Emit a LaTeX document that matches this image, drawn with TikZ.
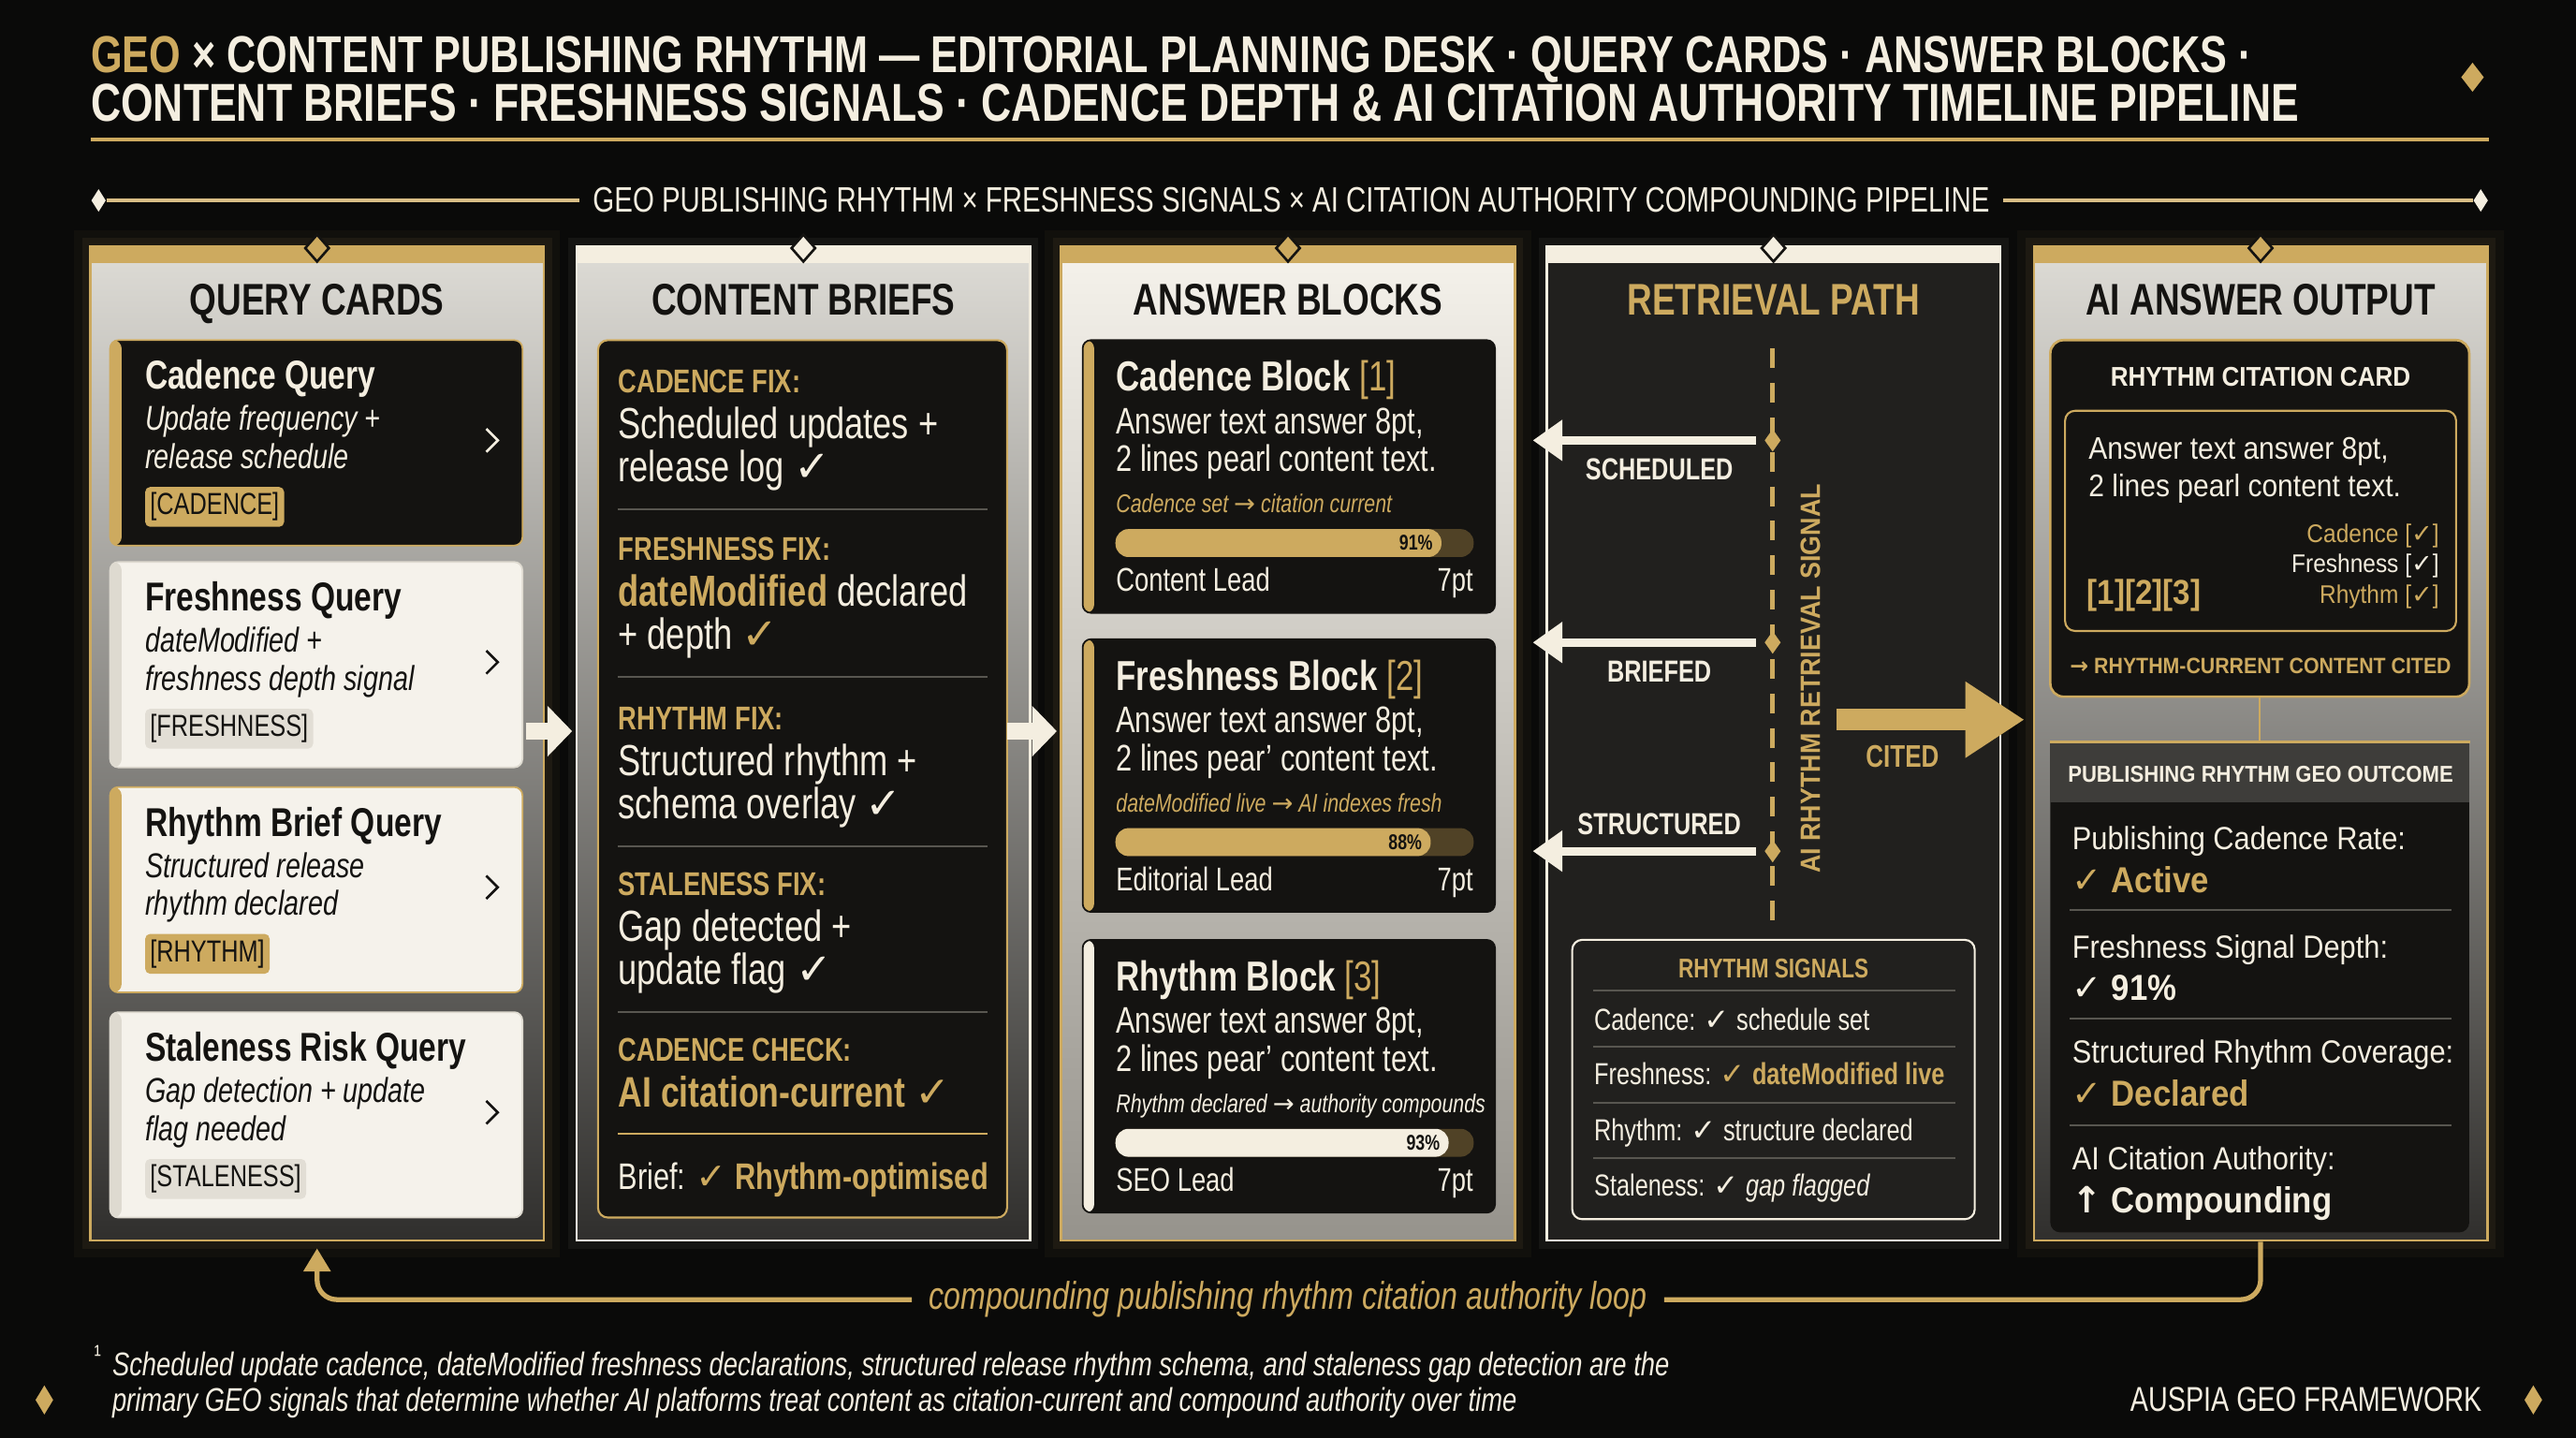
\documentclass[tikz,border=0pt]{standalone}
\usepackage{fontspec}
\setmainfont[FakeStretch=0.78]{Liberation Sans}
\newfontfamily\widefont[FakeStretch=0.9]{Liberation Sans}
\newfontfamily\symfont{DejaVu Sans}
\usetikzlibrary{arrows.meta,shapes.geometric}

\definecolor{bg}{RGB}{10,10,9}
\definecolor{gold}{RGB}{205,170,95}
\definecolor{cream}{RGB}{244,238,224}
\definecolor{ink}{RGB}{20,19,17}
\definecolor{paper}{RGB}{245,242,235}
\definecolor{paperedge}{RGB}{222,218,208}
\definecolor{taggray}{RGB}{226,222,213}
\definecolor{panel}{RGB}{33,32,30}
\definecolor{rule}{RGB}{88,86,80}
\definecolor{track}{RGB}{80,66,38}
\definecolor{outhead}{RGB}{62,61,58}
\definecolor{colhi}{RGB}{222,220,214}
\definecolor{collo}{RGB}{48,47,45}

\newcommand\fsz[1]{\fontsize{#1}{#1}\selectfont}
\newcommand\ck{{\symfont ✓}}
\newcommand\rarr{{\symfont →}}
\newcommand\uarr{{\symfont ↑}}

\tikzset{every picture/.style={line width=0.75pt}}

\begin{document}
\begin{tikzpicture}[x=1pt,y=1pt,yscale=-1,
  txt/.style={anchor=base west,inner sep=0pt,text=cream},
  txtr/.style={anchor=base east,inner sep=0pt,text=cream},
  txtc/.style={anchor=base,inner sep=0pt,text=cream},
  colbox/.style={rectangle,minimum width=276pt,minimum height=605pt,line width=1.5pt,inner sep=0pt},
  topdia/.style={diamond,fill=#1,draw=ink,line width=1.5pt,minimum width=15pt,minimum height=17pt,inner sep=0pt},
  qcard/.style={rectangle,rounded corners=5pt,minimum width=251pt,minimum height=125pt,inner sep=0pt,line width=1pt},
  sidebar/.style={path picture={\fill[#1] (path picture bounding box.south west) rectangle ([xshift=7pt]path picture bounding box.north west);}},
  tagbox/.style={anchor=west,rounded corners=3pt,inner xsep=3pt,inner ysep=3.5pt,text=ink,fill=#1},
  divider/.style={draw=rule,line width=1.2pt},
  glow/.style={draw=#1,line width=10pt,opacity=0.07},
  retarrow/.style={draw=cream,line width=5pt,shorten <=5pt,-{Triangle[length=18pt,width=24pt]}},
  colarrow/.style={draw=cream,line width=10pt,shorten >=2pt,-{Triangle[length=15pt,width=30pt]}},
  loopline/.style={draw=gold,line width=3pt,rounded corners=12pt},
  subline/.style={draw=gold!70!cream,line width=2pt,shorten >=8pt},
  smalldia/.style={diamond,fill=#1,minimum width=9pt,minimum height=14pt,inner sep=0pt}
]
%Background
\fill[bg] (0,0) rectangle (1568,875);
\path[use as bounding box] (0,0) rectangle (1568,875);

% Title
\node[txt,font=\bfseries\fsz{31.6}] (title1) at (55,44) {\textcolor{gold}{GEO} × CONTENT PUBLISHING RHYTHM — EDITORIAL PLANNING DESK · QUERY CARDS · ANSWER BLOCKS ·};
\node[txt,font=\bfseries\fsz{32.5}] (title2) at (55,74) {CONTENT BRIEFS · FRESHNESS SIGNALS · CADENCE DEPTH \& AI CITATION AUTHORITY TIMELINE PIPELINE};
\node[smalldia=gold,minimum width=14pt,minimum height=18pt] (tdia) at (1505,47) {};
\draw[gold,line width=2pt] (55,85) -- (1515,85);

% Subtitle
\node[txtc,font=\fsz{21.5}] (sub) at (786,129) {GEO PUBLISHING RHYTHM × FRESHNESS SIGNALS × AI CITATION AUTHORITY COMPOUNDING PIPELINE};
\node[smalldia=cream] (subl) at (60,122) {};
\node[smalldia=cream] (subr) at (1510,122) {};
\draw[subline] (subl) -- (sub.west |- subl);
\draw[subline] (subr) -- (sub.east |- subr);

%Glow round the columns
\foreach \xa in {55,646,1238} {
  \draw[glow=gold] (\xa,150) rectangle (\xa+276,755);
  \draw[glow=gold,line width=20pt,opacity=0.04] (\xa,150) rectangle (\xa+276,755);
}
\foreach \xa in {351,941.5} \draw[glow=cream,opacity=0.05] (\xa,150) rectangle (\xa+276,755);

%Columns
\node[colbox,draw=gold,top color=colhi,bottom color=collo] (col1) at (193,452.5) {};
\node[colbox,draw=cream,top color=colhi,bottom color=collo] (col2) at (489,452.5) {};
\node[colbox,draw=gold,top color=paper,bottom color={rgb,255:red,150;green,147;blue,140}] (col3) at (784,452.5) {};
\node[colbox,draw=cream,fill=panel] (col4) at (1079.5,452.5) {};
\node[colbox,draw=gold,top color=colhi,bottom color=collo] (col5) at (1376,452.5) {};
\fill[gold] (55,150) rectangle (331,160);
\fill[cream] (351,150) rectangle (627,160);
\fill[gold] (646,150) rectangle (922,160);
\fill[cream] (941.5,150) rectangle (1217.5,160);
\fill[gold] (1238,150) rectangle (1514,160);
\node[topdia=gold] (dia1) at (193,151) {};
\node[topdia=cream] (dia2) at (489,151) {};
\node[topdia=gold] (dia3) at (784,151) {};
\node[topdia=cream] (dia4) at (1079.5,151) {};
\node[topdia=gold] (dia5) at (1376,151) {};
\node[txtc,text=ink,font=\bfseries\fsz{27}] (head1) at (193,192) {QUERY CARDS};
\node[txtc,text=ink,font=\bfseries\fsz{27}] (head2) at (489,192) {CONTENT BRIEFS};
\node[txtc,text=ink,font=\bfseries\fsz{27}] (head3) at (784,192) {ANSWER BLOCKS};
\node[txtc,text=gold,font=\bfseries\fsz{27}] (head4) at (1079.5,192) {RETRIEVAL PATH};
\node[txtc,text=ink,font=\bfseries\fsz{27}] (head5) at (1376,192) {AI ANSWER OUTPUT};

%Query cards
\foreach \ty/\ttl/\sa/\sb/\tg/\cf/\scl/\tf/\bd/\tc [count=\idx] in {
  207/Cadence Query/Update frequency +/release schedule/CADENCE/ink/gold/gold/gold/cream,
  342/Freshness Query/dateModified +/freshness depth signal/FRESHNESS/paper/paperedge/taggray/paperedge/ink,
  479/Rhythm Brief Query/Structured release/rhythm declared/RHYTHM/paper/gold/gold/gold/ink,
  616/Staleness Risk Query/Gap detection + update/flag needed/STALENESS/paper/paperedge/taggray/paperedge/ink}
{
  \node[qcard,fill=\cf,draw=\bd,sidebar=\scl] (qc\idx) at (192.5,\ty+62.5) {};
  \node[txt,text=\tc,font=\bfseries\fsz{24.5}] (qt\idx) at (88,\ty+30) {\ttl};
  \node[txt,text=\tc,font=\itshape\fsz{21}] (qa\idx) at (88,\ty+55) {\sa};
  \node[txt,text=\tc,font=\itshape\fsz{21}] (qb\idx) at (88,\ty+78) {\sb};
  \node[tagbox=\tf,font=\fsz{18.5}] (qg\idx) at (88,\ty+101.5) {[\tg]};
  \draw[\tc,line width=1.5pt] (296,\ty+54) -- (303,\ty+61) -- (296,\ty+68);
}

%Content briefs
\node[rectangle,rounded corners=6pt,fill=ink,draw=gold,line width=1.2pt,minimum width=249pt,minimum height=534pt,inner sep=0pt] (bpanel) at (488.5,474) {};
\foreach \sy/\lab/\la/\lb [count=\idx] in {
  232/CADENCE FIX:/{Scheduled updates +}/{release log \ck},
  334/FRESHNESS FIX:/{\textcolor{gold}{\bfseries dateModified} declared}/{+ depth \textcolor{gold}{\ck}},
  437/RHYTHM FIX:/{Structured rhythm +}/{schema overlay \ck},
  538/STALENESS FIX:/{Gap detected +}/{update flag \ck}}
{
  \node[txt,text=gold,font=\bfseries\fsz{20}] (bl\idx) at (376,\sy+7) {\lab};
  \node[txt,font=\fsz{26.5}] (ba\idx) at (376,\sy+35) {\la};
  \node[txt,font=\fsz{26.5}] (bb\idx) at (376,\sy+61) {\lb};
  \draw[divider] (376,\sy+78) -- (601,\sy+78);
}
\node[txt,text=gold,font=\bfseries\fsz{20}] (bl5) at (376,646) {CADENCE CHECK:};
\node[txt,text=gold,font=\bfseries\fsz{26}] (bc5) at (376,674) {AI citation-current \ck};
\draw[gold,line width=1.5pt] (376,690) -- (601,690);
\node[txt,font=\fsz{22.5}] (bfin) at (376,724) {Brief: \textcolor{gold}{\ck\ \bfseries Rhythm-optimised}};

%Answer blocks
\foreach \ty/\ttl/\pl/\nte/\p/\lead/\bc [count=\idx] in {
  207/Cadence Block/{pearl}/{Cadence set \rarr\ citation current}/91/Content Lead/gold,
  389/Freshness Block/{pear'}/{dateModified live \rarr\ AI indexes fresh}/88/Editorial Lead/gold,
  572/Rhythm Block/{pear'}/{Rhythm declared \rarr\ authority compounds}/93/SEO Lead/cream}
{
  \node[qcard,minimum height=166pt,fill=ink,draw=ink,sidebar=\bc] (ab\idx) at (784.5,\ty+83) {};
  \node[txt,font=\bfseries\fsz{25.5}] (at\idx) at (679,\ty+31) {\ttl\ \textcolor{gold}{\mdseries[\idx]}};
  \node[txt,font=\fsz{22.5}] (aa\idx) at (679,\ty+57) {Answer text answer 8pt,};
  \node[txt,font=\fsz{22.5}] (al\idx) at (679,\ty+80) {2 lines \pl\ content text.};
  \node[txt,text=\bc,font=\itshape\fsz{15.6}] (an\idx) at (679,\ty+105) {\nte};
  \fill[track,rounded corners=8pt] (679,\ty+115) rectangle (897,\ty+132);
  \fill[\bc,rounded corners=8pt] (679,\ty+115) rectangle ({679+2.18*\p},\ty+132);
  \node[txtr,text=ink,font=\bfseries\fsz{13}] (ap\idx) at ({679+2.18*\p-5},\ty+128) {\p\%};
  \node[txt,font=\fsz{20}] (ald\idx) at (679,\ty+153) {\lead};
  \node[txtr,font=\fsz{20}] (apt\idx) at (897,\ty+153) {7pt};
}

%Retrieval path
\draw[gold,line width=3pt,dash pattern=on 12pt off 9pt] (1079,212) -- (1079,566);
\foreach \y/\lab/\ly [count=\idx] in {268/SCHEDULED/292, 391/BRIEFED/415, 518/STRUCTURED/508}
{
  \node[smalldia=gold,minimum width=10pt,minimum height=14pt] (rd\idx) at (1079,\y) {};
  \coordinate (rt\idx) at (933,\y);
  \draw[retarrow] (rd\idx) -- (rt\idx);
  \node[txtc,font=\bfseries\fsz{18.5}] (rl\idx) at (1010,\ly) {\lab};
}
\node[rotate=90,text=gold,font=\widefont\bfseries\fsz{17},inner sep=0pt] (vsig) at (1102,413) {AI RHYTHM RETRIEVAL SIGNAL};
\coordinate (cs) at (1118,438);
\draw[gold,line width=13pt,shorten >=5pt,-{Triangle[length=36pt,width=44pt]}] (cs) -- (col5.west |- cs);
\node[txtc,text=gold,font=\bfseries\fsz{19}] (cited) at (1158,467) {CITED};

% Rhythm signals
\node[rectangle,rounded corners=6pt,draw=cream,line width=1.2pt,fill=panel,minimum width=245pt,minimum height=170pt,inner sep=0pt] (sig) at (1079.5,657) {};
\node[txtc,text=gold,font=\bfseries\fsz{16.5}] (sigt) at (1079.5,595) {RHYTHM SIGNALS};
\foreach \y in {603,637,671,705} \draw[divider] (970,\y) -- (1190,\y);
\node[txt,font=\fsz{18.5}] (sr1) at (970,627) {Cadence: \ck\ schedule set};
\node[txt,font=\fsz{18.5}] (sr2) at (970,660) {Freshness: \textcolor{gold}{\ck\ \bfseries dateModified live}};
\node[txt,font=\fsz{18.5}] (sr3) at (970,694) {Rhythm: \ck\ structure declared};
\node[txt,font=\fsz{18.5}] (sr4) at (970,728) {Staleness: \ck\ \itshape gap flagged};

%AI answer output
\node[rectangle,rounded corners=8pt,fill=ink,draw=gold,line width=1.5pt,minimum width=255pt,minimum height=217pt,inner sep=0pt] (card) at (1375.5,315.5) {};
\node[txtc,font=\widefont\bfseries\fsz{16.5}] (cardt) at (1376,235) {RHYTHM CITATION CARD};
\node[rectangle,rounded corners=6pt,draw=gold,line width=1.2pt,fill=ink,minimum width=238pt,minimum height=134pt,inner sep=0pt] (cin) at (1376,317) {};
\node[txt,font=\widefont\fsz{19}] (cl1) at (1271,279.5) {Answer text answer 8pt,};
\node[txt,font=\widefont\fsz{19}] (cl2) at (1271,302.5) {2 lines pearl content text.};
\node[txtr,text=gold,font=\widefont\fsz{15.5}] (cc1) at (1485,330) {Cadence [\ck]};
\node[txtr,font=\widefont\fsz{15.5}] (cc2) at (1485,348.5) {Freshness [\ck]};
\node[txtr,text=gold,font=\widefont\fsz{15.5}] (cc3) at (1485,367) {Rhythm [\ck]};
\node[txt,text=gold,font=\widefont\bfseries\fsz{21}] (crefs) at (1270,368) {[1][2][3]};
\node[txtc,text=gold,font=\widefont\bfseries\fsz{13.5}] (ccited) at (1376,410) {\rarr\ RHYTHM-CURRENT CONTENT CITED};
\node[rectangle,rounded corners=6pt,fill=ink,minimum width=255pt,minimum height=270pt,inner sep=0pt] (obody) at (1375.5,615) {};
\node[rectangle,fill=outhead,minimum width=255pt,minimum height=36pt,inner sep=0pt] (ohead) at (1375.5,470) {};
\draw[gold,line width=1.5pt] (ohead.north west) -- (ohead.north east);
\draw[gold,line width=1.5pt] (card.south) -- (ohead.north);
\node[txtc,font=\widefont\bfseries\fsz{14}] (oht) at (1376,476) {PUBLISHING RHYTHM GEO OUTCOME};
\foreach \y/\lab/\val/\vc [count=\idx] in {
  510/Publishing Cadence Rate:/\ck\ Active/gold,
  576/Freshness Signal Depth:/\ck\ 91\%/cream,
  640/Structured Rhythm Coverage:/\ck\ Declared/gold,
  705/AI Citation Authority:/\uarr\ Compounding/cream}
{
  \node[txt,font=\widefont\fsz{19.5}] (ol\idx) at (1261,\y+7) {\lab};
  \node[txt,text=\vc,font=\widefont\bfseries\fsz{22}] (ov\idx) at (1261,\y+33) {\val};
}
\foreach \y in {554,620,685} \draw[divider] (1260,\y) -- (1492,\y);

%Column arrows
\coordinate (ca1) at (320,445);
\coordinate (ca2) at (613,445);
\draw[colarrow] (ca1) -- (col2.west |- ca1);
\draw[colarrow] (ca2) -- (col3.west |- ca2);

%Loop
\node[txtc,text=gold,font=\itshape\fsz{23.5}] (loop) at (784,797) {compounding publishing rhythm citation authority loop};
\draw[loopline,shorten >=10pt] (col5.south) |- (loop.east);
\draw[loopline,shorten <=10pt,shorten >=4pt,-{Triangle[length=14pt,width=16pt]}] (loop.west) -| (col1.south);

% Footnote
\node[txt,font=\fsz{16}] (fnm) at (57,830) {¹};
\node[txt,font=\itshape\fsz{20}] (fn1) at (68,837) {Scheduled update cadence, dateModified freshness declarations, structured release rhythm schema, and staleness gap detection are the};
\node[txt,font=\itshape\fsz{20}] (fn2) at (68,859) {primary GEO signals that determine whether AI platforms treat content as citation-current and compound authority over time};
\node[txtr,font=\fsz{21}] (brand) at (1511,859) {AUSPIA GEO FRAMEWORK};
\node[smalldia=gold,minimum width=11pt,minimum height=18pt] (fdl) at (27,852) {};
\node[smalldia=gold,minimum width=11pt,minimum height=18pt] (fdr) at (1542,852) {};
\end{tikzpicture}
\end{document}
